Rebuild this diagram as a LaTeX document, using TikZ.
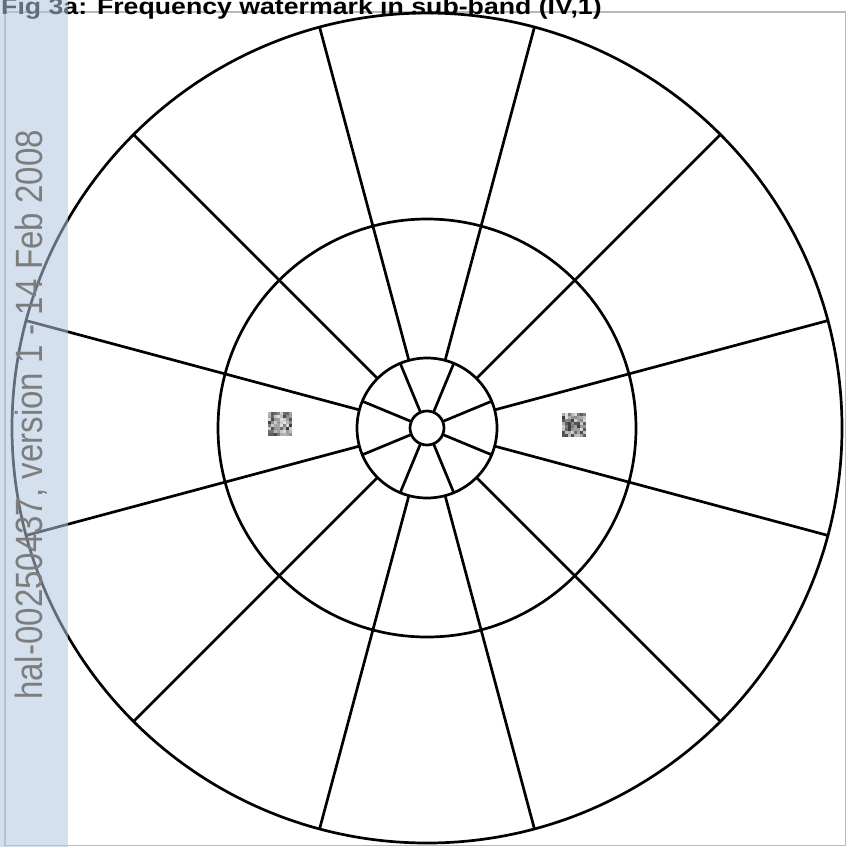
\documentclass[tikz,border=0pt]{standalone}
\usepackage{fontspec}
\setmainfont{Liberation Sans}
\usepackage{graphicx}
\definecolor{halStrip}{RGB}{180,199,226}
\definecolor{halText}{RGB}{125,125,125}

\begin{document}
\begin{tikzpicture}[x=1pt,y=-1pt,
  ring/.style={draw=black, line width=2.7pt},
  spoke/.style={draw=black, line width=2.7pt},
  frameline/.style={draw=gray!55, line width=1.6pt}]
\useasboundingbox (0,0) rectangle (848,847);
\fill[white] (0,0) rectangle (848,847);
\coordinate (c) at (427,428);
% page frame
\draw[frameline] (5,12) rectangle (845.5,845.5);
% rings
\foreach \r in {17,70,209,415}
  \draw[ring] (c) circle[radius=\r];
% inner spokes
\foreach \a in {22.5,67.5,...,337.5}
  \draw[spoke] ([shift={(\a:17)}]c) -- ([shift={(\a:70)}]c);
% outer spokes
\foreach \a in {15,45,...,345}
  \draw[spoke] ([shift={(\a:70)}]c) -- ([shift={(\a:415)}]c);
% watermark patches
\pgfmathsetseed{42}
\foreach \px/\py in {280/424, 574/425}
  \foreach \i in {0,...,7}
    \foreach \j in {0,...,7} {
      \pgfmathsetmacro\g{int(12+65*rnd)}
      \fill[black!\g] (\px-12+3*\i,\py-12+3*\j) rectangle ++(3,3);
    }
% title
\node[anchor=base west, inner sep=0pt, font=\bfseries\fontsize{23}{23}\selectfont] (title) at (1,14.5)
  {\scalebox{1.16}[1]{Fig 3a: Frequency watermark in sub-band (IV,1)}};
% side strip
\fill[halStrip, opacity=0.55] (0,0) rectangle (68,847);
\node[rotate=90, anchor=base west, inner sep=0pt, text=halText, font=\fontsize{38}{38}\selectfont] (halid) at (42,700)
  {\scalebox{0.87}[1]{hal-00250437, version 1 - 14 Feb 2008}};
\end{tikzpicture}
\end{document}
